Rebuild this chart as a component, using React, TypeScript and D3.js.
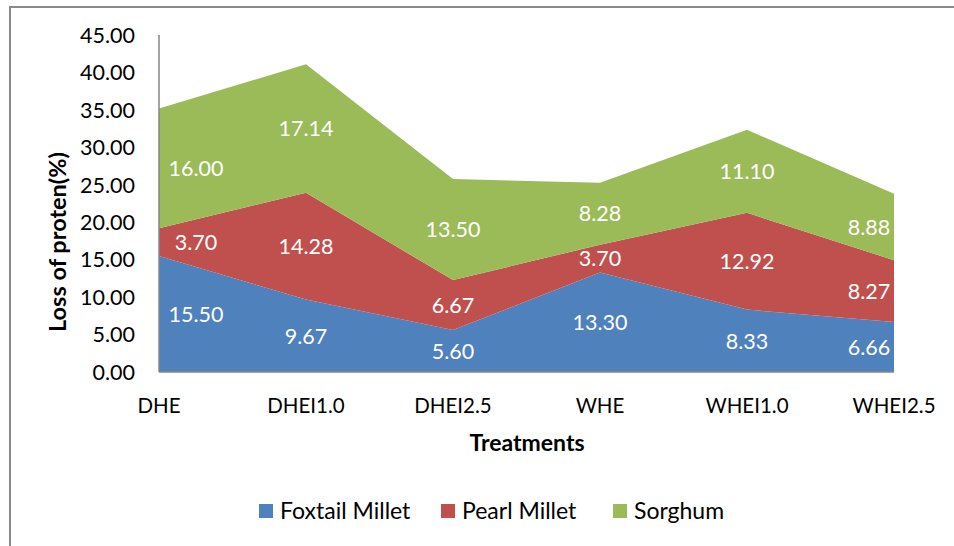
import React from "react";
import * as d3 from "d3";

const categories = ["DHE", "DHEI1.0", "DHEI2.5", "WHE", "WHEI1.0", "WHEI2.5"];
const foxtail = [15.5, 9.67, 5.6, 13.3, 8.33, 6.66];
const pearl = [3.7, 14.28, 6.67, 3.7, 12.92, 8.27];
const sorghum = [16.0, 17.14, 13.5, 8.28, 11.1, 8.88];
const seriesNames = ["Foxtail Millet", "Pearl Millet", "Sorghum"];
const seriesColors = ["#4F81BD", "#C0504D", "#9BBB59"];
const yTicks = [0, 5, 10, 15, 20, 25, 30, 35, 40, 45];

const W = 954;
const H = 546;
const FONT = "Lato, 'Open Sans', sans-serif";

export default function App() {
  const x = d3.scalePoint<string>().domain(categories).range([159, 894]);
  const y = d3.scaleLinear().domain([0, 45]).range([372, 35]);

  const rows = categories.map((c, i) => ({
    cat: c,
    "Foxtail Millet": foxtail[i],
    "Pearl Millet": pearl[i],
    Sorghum: sorghum[i],
  }));
  const stack = d3.stack<any>().keys(seriesNames);
  const layers = stack(rows);
  const area = d3
    .area<any>()
    .x((d) => x(d.data.cat) as number)
    .y0((d) => y(d[0]))
    .y1((d) => y(d[1]));

  const labelX = (i: number) => {
    const px = x(categories[i]) as number;
    if (i === 0) return px + 37;
    if (i === categories.length - 1) return px - 25;
    return px;
  };

  const legendItems = [
    { name: seriesNames[0], sx: 259, tx: 280 },
    { name: seriesNames[1], sx: 441, tx: 462 },
    { name: seriesNames[2], sx: 613, tx: 634 },
  ];

  return (
    <svg
      width={W}
      height={H}
      style={{ position: "absolute", left: 0, top: 0, background: "#fff" }}
      fontFamily={FONT}
    >
      <rect x={10} y={7} width={W + 10} height={H + 10} fill="#fff" stroke="#8a8a8a" strokeWidth={2} />
      {layers.map((layer, li) => (
        <path key={li} d={area(layer as any) || ""} fill={seriesColors[li]} />
      ))}
      {/* axes */}
      <line x1={159} x2={159} y1={y(45)} y2={y(0)} stroke="#868686" strokeWidth={1.5} />
      <line x1={159} x2={894} y1={y(0)} y2={y(0)} stroke="#868686" strokeWidth={1.5} />
      {yTicks.map((t) => (
        <text key={t} x={135} y={y(t)} dy="0.36em" textAnchor="end" fontSize={21.5} fill="#000">
          {t.toFixed(2)}
        </text>
      ))}
      {categories.map((c) => (
        <text key={c} x={x(c) as number} y={413} textAnchor="middle" fontSize={20.5} fill="#000">
          {c}
        </text>
      ))}
      {/* data labels */}
      {layers.map((layer, li) =>
        layer.map((d: any, i: number) => (
          <text
            key={li + "-" + i}
            x={labelX(i)}
            y={y((d[0] + d[1]) / 2)}
            dy="0.36em"
            textAnchor="middle"
            fontSize={21.5}
            fill="#fff"
          >
            {(d[1] - d[0]).toFixed(2)}
          </text>
        ))
      )}
      <text x={527} y={451} textAnchor="middle" fontSize={23} fontWeight="bold" fill="#000">
        Treatments
      </text>
      <text
        transform={`translate(66,242) rotate(-90)`}
        textAnchor="middle"
        fontSize={23.5}
        fontWeight="bold"
        fill="#000"
      >
        Loss of proten(%)
      </text>
      {legendItems.map((it, i) => (
        <g key={it.name}>
          <rect x={it.sx} y={504} width={14} height={14} fill={seriesColors[i]} />
          <text x={it.tx} y={519} fontSize={23} fill="#000">
            {it.name}
          </text>
        </g>
      ))}
    </svg>
  );
}
